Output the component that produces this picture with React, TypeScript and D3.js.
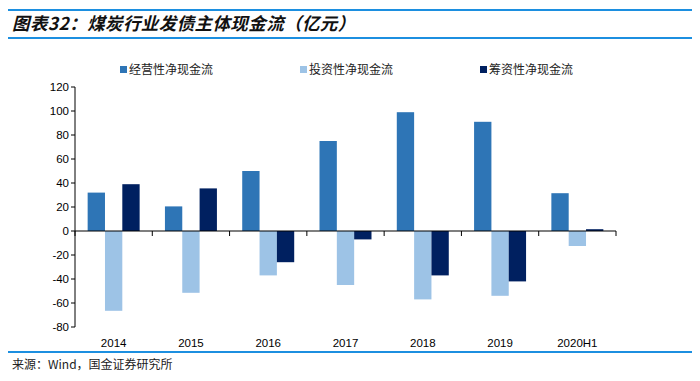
import React from "react";
import * as d3 from "d3";

const categories = ["2014", "2015", "2016", "2017", "2018", "2019", "2020H1"];
const seriesNames = ["经营性净现金流", "投资性净现金流", "筹资性净现金流"];
const operating = [32, 20.5, 50, 75, 99, 91, 31.5];
const investing = [-66.5, -51.5, -37, -45, -57, -54, -12.5];
const financing = [39, 35.5, -26, -7, -37, -42, 1.5];
const yTicks = [-80, -60, -40, -20, 0, 20, 40, 60, 80, 100, 120];
const colors = ["#2E75B6", "#9DC3E6", "#002060"];

export default function App() {
  const W = 700, H = 381;
  const left = 75, right = 616, top = 87, bottom = 327;
  const x = d3.scaleBand<string>().domain(categories).range([left, right]).paddingInner(0).paddingOuter(0);
  const inner = d3.scaleBand<number>().domain([0, 1, 2]).range([0, x.bandwidth()]).paddingInner(0).paddingOuter(0.73);
  const y = d3.scaleLinear().domain([-80, 120]).range([bottom, top]);
  const series = [operating, investing, financing];
  const font = "'Liberation Sans', Arial, sans-serif";
  const cjk = "'Noto Sans CJK SC', sans-serif";
  const legendX = [123, 303, 483];
  const boundaries = [...categories.map((c) => x(c)!), right];

  return (
    <svg width={W} height={H} style={{ position: "absolute", left: 0, top: 0, background: "#fff" }}>
      <rect x={0} y={0} width={W} height={H} fill="#fff" />
      <line x1={8} x2={692} y1={10} y2={10} stroke="#1C8FE0" strokeWidth={2} />
      <line x1={8} x2={692} y1={38} y2={38} stroke="#1C8FE0" strokeWidth={2} />
      <text x={12} y={30} fontFamily={cjk} fontSize={17.5} fontWeight="bold" fontStyle="italic" letterSpacing={0.4} fill="#111">
        图表32：煤炭行业发债主体现金流（亿元）
      </text>

      {seriesNames.map((n, i) => (
        <g key={n}>
          <rect x={legendX[i] - 3} y={66} width={7} height={7} fill={colors[i]} />
          <text x={legendX[i] + 6} y={74} fontFamily={cjk} fontSize={12} fill="#222">{n}</text>
        </g>
      ))}

      {series.map((vals, si) =>
        vals.map((v, ci) => {
          const bx = x(categories[ci])! + inner(si)!;
          const y0 = y(0), y1 = y(v);
          return (
            <rect key={`${si}-${ci}`} x={bx} y={Math.min(y0, y1)} width={inner.bandwidth()}
              height={Math.abs(y1 - y0)} fill={colors[si]} />
          );
        })
      )}

      <line x1={left} x2={left} y1={top} y2={bottom} stroke="#000" strokeWidth={1} />
      {yTicks.map((t) => (
        <g key={t}>
          <line x1={left - 4} x2={left} y1={y(t)} y2={y(t)} stroke="#000" />
          <text x={left - 6} y={y(t) + 4} textAnchor="end" fontFamily={font} fontSize={11.5} fill="#000">{t}</text>
        </g>
      ))}
      <line x1={left} x2={right} y1={y(0)} y2={y(0)} stroke="#000" strokeWidth={1.2} />
      {boundaries.map((b, i) => (
        <line key={i} x1={b} x2={b} y1={y(0)} y2={y(0) + 5} stroke="#000" />
      ))}
      {categories.map((c) => (
        <text key={c} x={x(c)! + x.bandwidth() / 2} y={347} textAnchor="middle" fontFamily={font} fontSize={11.5} fill="#000">{c}</text>
      ))}

      <line x1={8} x2={692} y1={352} y2={352} stroke="#1C8FE0" strokeWidth={2} />
      <text x={12} y={369} fontFamily={cjk} fontSize={12} fill="#222">来源：Wind，国金证券研究所</text>
    </svg>
  );
}
